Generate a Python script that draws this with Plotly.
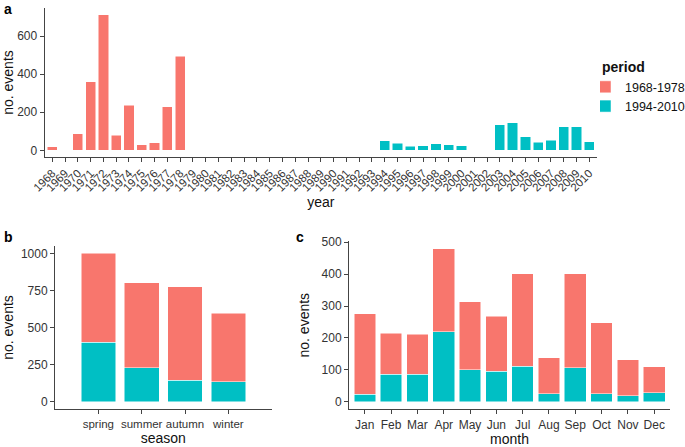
import plotly.graph_objects as go

# ---- data ----
early_years = list(range(1968, 1979))
early_counts = [19, 4, 86, 359, 712, 79, 236, 28, 40, 229, 495]
late_years = [1994, 1995, 1996, 1997, 1998, 1999, 2000,
              2003, 2004, 2005, 2006, 2007, 2008, 2009, 2010]
late_counts = [49, 38, 21, 24, 35, 30, 23, 133, 145, 70, 42, 54, 124, 124, 44]
all_years = list(range(1968, 2011))

seasons = ["spring", "summer", "autumn", "winter"]
season_early = [598, 571, 629, 463]
season_late = [402, 229, 146, 133]

months = ["Jan", "Feb", "Mar", "Apr", "May", "Jun",
          "Jul", "Aug", "Sep", "Oct", "Nov", "Dec"]
month_early = [252, 128, 126, 261, 214, 172, 291, 113, 295, 223, 112, 80]
month_late = [24, 86, 86, 219, 100, 96, 111, 25, 107, 25, 19, 29]

periods = ["1968-1978", "1994-2010"]
RED = "#F8766D"
TEAL = "#00BFC4"

W, H = 685, 447
FONT = "Liberation Sans, Arial, sans-serif"

fig = go.Figure()
line = dict(color="white", width=0.5)

# panel a
fig.add_trace(go.Bar(x=early_years, y=early_counts, width=0.8, marker=dict(color=RED, line=line),
                     name=periods[0], legendgroup=periods[0], legendrank=1, xaxis="x", yaxis="y"))
fig.add_trace(go.Bar(x=late_years, y=late_counts, width=0.8, marker=dict(color=TEAL, line=line),
                     name=periods[1], legendgroup=periods[1], legendrank=2, xaxis="x", yaxis="y"))
# panel b (teal at bottom)
sx = list(range(len(seasons)))
fig.add_trace(go.Bar(x=sx, y=season_late, width=0.8, marker=dict(color=TEAL, line=line),
                     name=periods[1], legendgroup=periods[1], showlegend=False, xaxis="x2", yaxis="y2"))
fig.add_trace(go.Bar(x=sx, y=season_early, width=0.8, marker=dict(color=RED, line=line),
                     name=periods[0], legendgroup=periods[0], showlegend=False, xaxis="x2", yaxis="y2"))
# panel c
mx = list(range(len(months)))
fig.add_trace(go.Bar(x=mx, y=month_late, width=0.82, marker=dict(color=TEAL, line=line),
                     name=periods[1], legendgroup=periods[1], showlegend=False, xaxis="x3", yaxis="y3"))
fig.add_trace(go.Bar(x=mx, y=month_early, width=0.82, marker=dict(color=RED, line=line),
                     name=periods[0], legendgroup=periods[0], showlegend=False, xaxis="x3", yaxis="y3"))

def dx(a, b):
    return [a / W, b / W]

def dy(top, bottom):
    return [1 - bottom / H, 1 - top / H]

TICKC = "#333333"
axcommon = dict(showline=True, linecolor="#444444", linewidth=1, ticks="outside", ticklen=4,
                tickcolor="#444444", showgrid=False, zeroline=False, tickangle=0,
                automargin=False,
                tickfont=dict(family=FONT, size=12, color=TICKC))
titlefont = dict(family=FONT, size=14, color="#111111")

fig.update_layout(
    width=W, height=H, margin=dict(l=0, r=0, t=0, b=0, autoexpand=False),
    paper_bgcolor="white", plot_bgcolor="white", barmode="stack",
    font=dict(family=FONT),
    xaxis=dict(domain=dx(44.6, 597), anchor="y", range=[1967.4, 2010.6],
               tickvals=all_years, ticktext=[str(y) for y in all_years],
               title=dict(text="year", font=titlefont, standoff=4),
               **{**axcommon, "tickangle": -45,
                  "tickfont": dict(family=FONT, size=11.5, color=TICKC)}),
    yaxis=dict(domain=dy(7.9, 157.1), anchor="x", range=[-35.6, 747.6],
               tickvals=[0, 200, 400, 600],
               title=dict(text="no. events", font=titlefont, standoff=8), **axcommon),
    xaxis2=dict(domain=dx(55, 271.7), anchor="y2", range=[-1, 4],
                tickvals=sx, ticktext=seasons,
                title=dict(text="season", font=titlefont, standoff=4),
                **{**axcommon, "tickfont": dict(family=FONT, size=11.5, color=TICKC)}),
    yaxis2=dict(domain=dy(245.9, 409.1), anchor="x2", range=[-50, 1050],
                tickvals=[0, 250, 500, 750, 1000],
                title=dict(text="no. events", font=titlefont, standoff=8), **axcommon),
    xaxis3=dict(domain=dx(349, 670), anchor="y3", range=[-0.6, 11.6],
                tickvals=mx, ticktext=months,
                title=dict(text="month", font=titlefont, standoff=4), **axcommon),
    yaxis3=dict(domain=dy(241, 409.4), anchor="x3", range=[-24, 504],
                tickvals=[0, 100, 200, 300, 400, 500],
                title=dict(text="no. events", font=titlefont, standoff=8), **axcommon),
    legend=dict(x=600 / W, y=1 - 54 / H, xanchor="left", yanchor="top", indentation=-15,
                title=dict(text="<b>period</b>", font=dict(family=FONT, size=14, color="#111111")),
                font=dict(family=FONT, size=12.5, color="#111111"),
                traceorder="normal", itemwidth=30, tracegroupgap=0, bgcolor="rgba(0,0,0,0)"),
    annotations=[
        dict(text="<b>a</b>", x=2 / W, y=1 + 1 / H, xref="paper", yref="paper", xanchor="left",
             yanchor="top", showarrow=False, font=dict(family=FONT, size=14, color="black")),
        dict(text="<b>b</b>", x=2 / W, y=1 - 227 / H, xref="paper", yref="paper", xanchor="left",
             yanchor="top", showarrow=False, font=dict(family=FONT, size=14, color="black")),
        dict(text="<b>c</b>", x=294 / W, y=1 - 227 / H, xref="paper", yref="paper", xanchor="left",
             yanchor="top", showarrow=False, font=dict(family=FONT, size=14, color="black")),
    ],
)

fig.write_html("out.html", config={"displayModeBar": False},
               post_script="document.body.style.margin='0';document.body.style.overflow='hidden';")
